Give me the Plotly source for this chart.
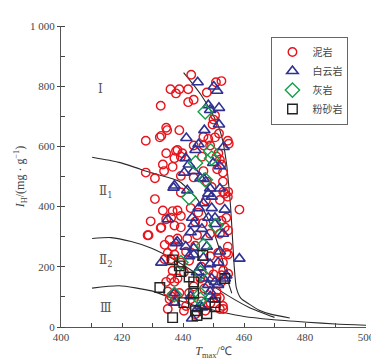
import plotly.graph_objects as go

# ---- data (Tmax in °C, IH in mg/g) ----
mud_T = [442.7, 450.8, 452.6, 435.9, 437.7, 438.8, 441.7, 447.8, 432.7, 441.7, 443.5, 449.7, 450.5,
         434.5, 434.8, 438.8, 432.9, 427.8, 446.7, 448.3, 450.5, 451.8, 454.7, 455.0, 443.5, 438.2,
         439.8, 434.5, 437.2, 439.3, 446.2, 451.0, 433.4, 436.6, 452.6, 452.1, 451.2, 453.1, 446.7,
         427.8, 430.8, 439.3, 443.5, 447.8, 453.1, 450.0, 446.8, 448.9, 451.6, 432.4, 437.7, 433.8,
         454.8, 453.2,
         430.8, 433.4, 436.6, 438.2, 439.3, 436.1, 442.5, 458.5, 428.4, 432.9, 434.5, 437.2, 439.3,
         452.6, 454.2, 438.2, 435.6, 434.0, 436.6, 441.4, 444.6, 448.9, 452.1, 454.7, 454.2, 451.5,
         448.9, 435.0, 437.2, 434.0, 439.3, 442.0, 453.1, 436.6, 440.3, 438.2, 437.2, 434.5, 445.7,
         452.6, 452.6, 435.0, 436.1, 438.8, 442.0, 442.5, 451.0, 451.0, 437.2, 435.0, 440.3, 447.3,
         452.1, 453.1, 439.3, 449.4, 453.7, 454.7, 452.1, 453.7, 454.8, 454.8, 453.2, 454.8, 452.1,
         453.2, 429.4, 428.7, 432.7, 436.1, 436.1, 436.7, 435.6, 445.0, 447.5, 444.0, 446.5, 441.0,
         444.0, 446.0, 448.5, 450.0, 443.5, 447.0, 449.0, 446.0, 441.0, 444.0]
mud_I = [838, 813, 817, 790, 776, 790, 790, 779, 735, 747, 755, 673, 703,
         662, 654, 654, 635, 619, 632, 625, 630, 643, 619, 609, 603, 588,
         577, 577, 561, 566, 566, 566, 540, 532, 540, 556, 524, 513, 518,
         513, 494, 502, 497, 483, 483, 689, 603, 603, 577, 630, 585, 518,
         449, 449,
         425, 387, 385, 387, 369, 363, 395, 390, 305, 331, 358, 337, 331,
         353, 363, 294, 289, 273, 267, 294, 305, 310, 310, 267, 246, 246,
         235, 246, 241, 225, 214, 220, 214, 187, 182, 161, 150, 150, 161,
         172, 150, 118, 102, 113, 113, 92, 118, 97, 86, 60, 54, 54,
         60, 70, 447, 465, 443, 433, 422, 331, 321, 241, 188, 177, 97,
         60, 351, 305, 329, 225, 161, 108, 92, 380, 420, 350, 345, 250,
         270, 200, 190, 175, 135, 128, 80, 85, 70, 42]

dol_T = [444.8, 450.1, 451.2, 448.3, 451.8, 451.8, 447.0, 441.1, 445.1, 444.1, 453.3, 440.9, 441.9,
         449.9, 452.1, 440.4, 443.5, 445.7, 437.2, 448.9, 446.8, 448.9, 452.1, 436.9,
         441.4, 448.3, 449.4, 446.7, 445.1, 449.4, 453.7, 435.0, 443.0, 443.5, 448.3, 450.5, 446.2,
         442.5, 447.8, 453.1, 437.7, 440.9, 443.5, 447.8, 452.1, 432.9, 442.0, 443.5, 446.7, 458.5,
         445.7, 448.9, 451.5, 444.6, 446.7, 449.4, 450.5, 451.5, 453.7, 448.3, 448.9, 437.2, 437.2,
         442.5, 448.9, 449.9, 445.7, 444.6, 446.2, 443.0, 438.1, 450.5, 454.2]
dol_I = [813, 799, 785, 737, 728, 673, 654, 628, 607, 588, 598, 561, 540,
         545, 534, 513, 518, 494, 470, 721, 492, 460, 460, 463,
         454, 443, 433, 411, 395, 395, 390, 358, 363, 342, 363, 342, 326,
         315, 299, 310, 278, 267, 262, 267, 251, 214, 235, 241, 230, 227,
         198, 209, 214, 182, 161, 161, 150, 140, 161, 140, 118, 113, 81,
         102, 102, 92, 70, 60, 65, 28, 284, 363, 171]

lime_T = [447.3, 449.1, 449.4, 444.1, 447.3, 442.0, 450.8, 446.7, 439.3, 445.7, 437.2, 445.7, 445.7]
lime_I = [715, 585, 561, 545, 489, 430, 337, 270, 214, 180, 108, 108, 92]

silt_T = [436.6, 438.8, 439.3, 442.0, 443.5, 453.7, 432.4, 443.5, 440.3, 450.5, 450.5, 444.1, 447.8,
          444.6, 436.6, 446.5]
silt_I = [223, 203, 184, 166, 150, 161, 131, 113, 81, 81, 67, 54, 44, 38, 31, 238]

# boundary curves
c1_T = [410.2, 419.0, 429.7, 438.7, 445.0, 449.5, 452.5, 454.5, 456.0]
c1_I = [564, 547, 512, 484, 420, 330, 240, 160, 112]
cA_T = [440.2, 443.0, 446.0, 449.0, 451.5, 453.0, 454.3, 455.0, 455.6, 456.2, 456.8, 457.5, 459.0,
        461.7, 465.0, 469.0, 475.0]
cA_I = [845, 810, 770, 720, 670, 620, 540, 470, 400, 300, 200, 130, 95, 76, 56, 42, 30]
c2_T = [410.2, 416.4, 423.0, 429.7, 436.0, 444.0, 451.5, 461.7, 470.0]
c2_I = [294, 297, 284, 262, 230, 180, 125, 65, 32]
c3_T = [410.2, 419.0, 429.7, 436.0, 445.0, 453.0, 460.0, 469.0, 480.8, 490.0, 500.0]
c3_I = [129, 137, 120, 97, 68, 49, 35, 25, 16, 10, 6]

zone_labels = ["Ⅰ", "Ⅱ<sub>1</sub>", "Ⅱ<sub>2</sub>", "Ⅲ"]
zone_T = [413.0, 414.6, 414.6, 414.6]
zone_I = [790, 449, 220, 63]

x_ticks = [400, 420, 440, 460, 480, 500]
y_ticks = [0, 200, 400, 600, 800, 1000]
y_ticktext = ["0", "200", "400", "600", "800", "1 000"]

fig = go.Figure()
line_style = dict(color="#2a2a2a", width=1.1, shape="spline", smoothing=0.6)
for cx, cy in [(c1_T, c1_I), (cA_T, cA_I), (c2_T, c2_I), (c3_T, c3_I)]:
    fig.add_trace(go.Scatter(x=cx, y=cy, mode="lines", line=line_style,
                             showlegend=False, hoverinfo="skip"))

fig.add_trace(go.Scatter(x=mud_T, y=mud_I, mode="markers", name="泥岩",
                         marker=dict(symbol="circle-open", size=8.5, color="#e8141c",
                                     line=dict(width=1.4, color="#e8141c"))))
fig.add_trace(go.Scatter(x=dol_T, y=dol_I, mode="markers", name="白云岩",
                         marker=dict(symbol="triangle-up-open", size=10, color="#2e3192",
                                     line=dict(width=1.6, color="#2e3192"))))
fig.add_trace(go.Scatter(x=lime_T, y=lime_I, mode="markers", name="灰岩",
                         marker=dict(symbol="diamond-open", size=11, color="#12a14b",
                                     line=dict(width=1.4, color="#12a14b"))))
fig.add_trace(go.Scatter(x=silt_T, y=silt_I, mode="markers", name="粉砂岩",
                         marker=dict(symbol="square-open", size=9.5, color="#222222",
                                     line=dict(width=1.4, color="#222222"))))

for lab, tx, ty in zip(zone_labels, zone_T, zone_I):
    fig.add_annotation(x=tx, y=ty, text=lab, showarrow=False,
                       font=dict(family="DejaVu Serif, Liberation Serif, serif", size=12, color="#555"))

tickfont = dict(family="Liberation Serif, Times New Roman, serif", size=11, color="#444")
fig.update_layout(
    width=379, height=360,
    margin=dict(l=47, r=19, t=14, b=33),
    paper_bgcolor="white", plot_bgcolor="white",
    showlegend=True,
    legend=dict(x=0.69, y=0.965, xanchor="left", yanchor="top",
                bordercolor="#666", borderwidth=1, bgcolor="white",
                font=dict(family="Noto Sans CJK SC", size=10, color="#444"),
                tracegroupgap=0, itemwidth=30),
    xaxis=dict(range=[400, 500], tickvals=x_ticks, ticks="inside", ticklen=4, tickwidth=1,
               tickcolor="#444", showline=True, linecolor="#555", linewidth=1.3,
               showgrid=False, zeroline=False, tickfont=tickfont,
               minor=dict(dtick=10, ticks="inside", ticklen=4, tickcolor="#444", showgrid=False),
               title=dict(text="<i>T</i><sub>max</sub>/℃", standoff=4,
                          font=dict(family="Liberation Serif, serif", size=12, color="#444"))),
    yaxis=dict(range=[0, 1000], tickvals=y_ticks, ticktext=y_ticktext, ticks="outside",
               ticklen=3, tickwidth=1, tickcolor="#444", showline=True, linecolor="#555",
               linewidth=1.3, showgrid=False, zeroline=False, tickfont=tickfont,
               minor=dict(dtick=100, ticks="inside", ticklen=4, tickcolor="#444", showgrid=False),
               title=dict(text="<i>I</i><sub>H</sub>/(mg · g<sup>−1</sup>)", standoff=2,
                          font=dict(family="Liberation Serif, serif", size=12, color="#444"))),
)
fig.write_html("out.html")
